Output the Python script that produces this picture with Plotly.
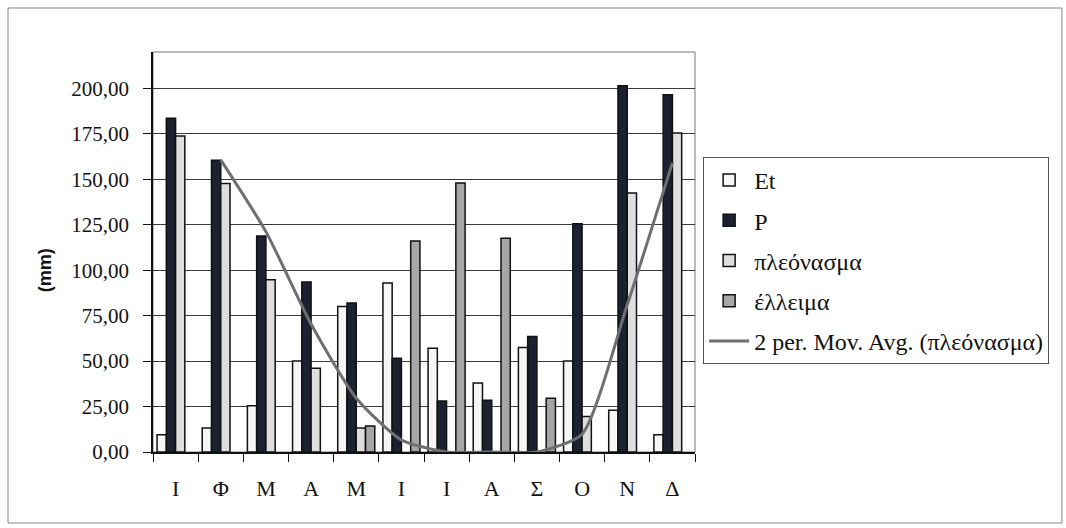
import plotly.graph_objects as go

months = ["Ι", "Φ", "Μ", "Α", "Μ", "Ι", "Ι", "Α", "Σ", "Ο", "Ν", "Δ"]
et = [9.5, 13.2, 25.5, 50.0, 80.0, 93.0, 57.0, 38.0, 57.5, 50.0, 23.0, 9.5]
p = [183.5, 160.5, 118.8, 93.5, 82.0, 51.5, 28.0, 28.5, 63.5, 125.5, 201.5, 196.5]
surplus = [173.8, 147.7, 94.8, 46.0, 13.2, None, None, None, None, 19.5, 142.5, 175.5]
deficit = [None, None, None, None, 14.3, 116.0, 148.0, 117.5, 29.5, None, None, None]
mov_avg = [None, 160.7, 121.2, 70.4, 29.6, 6.6, 0.0, 0.0, 0.0, 9.8, 81.0, 159.0]
y_ticks = [0, 25, 50, 75, 100, 125, 150, 175, 200]
y_tick_text = ["0,00", "25,00", "50,00", "75,00", "100,00", "125,00", "150,00", "175,00", "200,00"]

x = list(range(len(months)))
serif = "Liberation Serif, Times New Roman, serif"
edge = dict(color="#111111", width=1.5)

fig = go.Figure()
fig.add_trace(go.Bar(x=x, y=et, name="Et", legendgroup="a",
                     marker=dict(color="#f6f6f6", line=edge)))
fig.add_trace(go.Bar(x=x, y=p, name="P", legendgroup="b",
                     marker=dict(color="#1b2130", line=edge)))
fig.add_trace(go.Bar(x=x, y=surplus, name="πλεόνασμα", legendgroup="c",
                     marker=dict(color="#dedede", line=edge)))
fig.add_trace(go.Bar(x=x, y=deficit, name="έλλειμα", legendgroup="d",
                     marker=dict(color="#a6a6a6", line=edge)))
fig.add_trace(go.Scatter(x=x, y=mov_avg, name="2 per. Mov. Avg. (πλεόνασμα)", legendgroup="e",
                         mode="lines", line=dict(color="#6f6f6f", width=3, shape="spline", smoothing=0.6)))

fig.update_layout(
    width=1066, height=528,
    margin=dict(l=153, r=371, t=52, b=76),
    paper_bgcolor="white", plot_bgcolor="white",
    barmode="group", bargap=0.18, bargroupgap=0,
    font=dict(family=serif, size=21, color="#111111"),
    legend=dict(x=1.015, y=0.7375, xanchor="left", yanchor="top",
                bordercolor="#555555", borderwidth=1, bgcolor="white",
                font=dict(family=serif, size=24), tracegroupgap=6,
                itemwidth=40),
    showlegend=True,
)
fig.update_xaxes(
    range=[-0.5, 11.5], tickmode="array", tickvals=x, ticktext=months,
    ticks="", showgrid=False, zeroline=False,
    showline=True, linecolor="#111111", linewidth=1.5,
    tickfont=dict(family=serif, size=22), ticklabelstandoff=16,
    minor=dict(ticks="outside", tick0=-0.5, dtick=1, ticklen=8, tickcolor="#111111", showgrid=False),
)
fig.update_yaxes(
    range=[0, 220], tickmode="array", tickvals=y_ticks, ticktext=y_tick_text,
    ticks="outside", ticklen=8, tickcolor="#111111",
    showgrid=True, gridcolor="#3a3a3a", gridwidth=1, zeroline=False,
    showline=True, linecolor="#111111", linewidth=1.5,
    tickfont=dict(family=serif, size=21), ticklabelstandoff=10,
)
fig.add_shape(type="rect", xref="paper", yref="paper", x0=0, x1=1, y0=0, y1=1,
              line=dict(color="#777777", width=1), layer="below")
fig.add_shape(type="rect", xref="paper", yref="paper", x0=-0.2675, x1=1.677, y0=-0.1775, y1=1.11,
              line=dict(color="#888888", width=1), layer="below")
fig.add_annotation(text="<b>(mm)</b>", xref="paper", yref="paper", x=-0.199, y=0.455,
                   xanchor="center", yanchor="middle",
                   textangle=-90, showarrow=False,
                   font=dict(family="Liberation Sans, Arial, sans-serif", size=18, color="#111111"))

fig.write_html("out.html", config={"displayModeBar": False},
               post_script="document.body.style.margin='0';")
